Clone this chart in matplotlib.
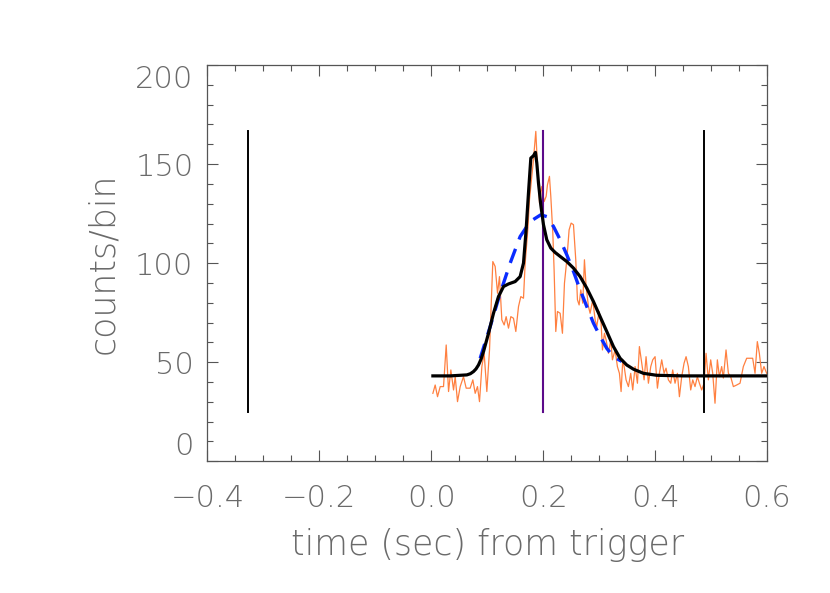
import numpy as np
import matplotlib
matplotlib.use("Agg")
import matplotlib.pyplot as plt
from matplotlib.ticker import MultipleLocator

# Observed light curve (orange)
t_obs = [0.0030, 0.0071, 0.0113, 0.0161, 0.0220, 0.0268, 0.0310, 0.0351, 0.0399, 0.0429,
         0.0470, 0.0518, 0.0577, 0.0625, 0.0696, 0.0744, 0.0786, 0.0827, 0.0863, 0.0905,
         0.0946, 0.0994, 0.1042, 0.1101, 0.1143, 0.1185, 0.1220, 0.1262, 0.1304, 0.1339,
         0.1381, 0.1423, 0.1470, 0.1512, 0.1560, 0.1601, 0.1649, 0.1679, 0.1726, 0.1756,
         0.1798, 0.1827, 0.1869, 0.1899, 0.1935, 0.1976, 0.2018, 0.2054, 0.2077, 0.2113,
         0.2137, 0.2173, 0.2196, 0.2226, 0.2256, 0.2304, 0.2345, 0.2381, 0.2423, 0.2464,
         0.2500, 0.2542, 0.2583, 0.2613, 0.2643, 0.2673, 0.2708, 0.2738, 0.2768, 0.2810,
         0.2839, 0.2887, 0.2929, 0.2958, 0.3000, 0.3036, 0.3060, 0.3095, 0.3125, 0.3167,
         0.3208, 0.3238, 0.3286, 0.3327, 0.3363, 0.3393, 0.3423, 0.3452, 0.3482, 0.3524,
         0.3565, 0.3601, 0.3643, 0.3685, 0.3720, 0.3762, 0.3804, 0.3839, 0.3881, 0.3923,
         0.3958, 0.4000, 0.4042, 0.4077, 0.4119, 0.4161, 0.4196, 0.4238, 0.4280, 0.4315,
         0.4357, 0.4399, 0.4435, 0.4476, 0.4518, 0.4554, 0.4595, 0.4637, 0.4673, 0.4714,
         0.4756, 0.4792, 0.4833, 0.4875, 0.4911, 0.4952, 0.4994, 0.5030, 0.5071, 0.5113,
         0.5149, 0.5190, 0.5220, 0.5268, 0.5310, 0.5351, 0.5399, 0.5458, 0.5518, 0.5577,
         0.5637, 0.5696, 0.5744, 0.5786, 0.5827, 0.5863, 0.5905, 0.5946, 0.5994]
counts_obs = [34.3, 38.5, 32.6, 37.7, 37.7, 58.7, 35.2, 46.1, 36.0, 42.7,
              30.1, 37.7, 42.7, 36.9, 36.9, 41.1, 34.3, 37.7, 30.1, 47.8,
              54.5, 35.2, 56.2, 100.8, 98.3, 84.8, 93.2, 71.4, 68.8, 73.0,
              67.2, 73.0, 72.2, 65.5, 78.1, 83.1, 82.3, 100.0, 116.8, 132.0,
              143.8, 152.2, 166.5, 148.8, 130.3, 138.7, 131.1, 133.7, 139.5, 143.8,
              133.7, 115.2, 96.6, 65.5, 75.6, 74.7, 64.6, 89.9, 101.7, 116.8,
              120.2, 119.4, 101.7, 81.5, 78.9, 86.5, 79.8, 101.7, 88.2, 78.1,
              74.7, 81.5, 71.4, 68.0, 75.6, 69.7, 56.2, 64.6, 61.3, 54.5,
              61.3, 51.2, 56.2, 47.8, 44.4, 35.2, 51.2, 47.0, 41.1, 37.7,
              44.4, 36.0, 47.8, 39.4, 57.9, 49.5, 41.1, 52.8, 39.4, 47.8,
              51.2, 52.8, 36.9, 44.4, 51.2, 44.4, 47.0, 41.1, 39.4, 46.1,
              39.4, 44.4, 32.6, 42.7, 49.5, 52.8, 47.8, 36.0, 41.1, 37.7,
              42.7, 39.4, 36.0, 39.4, 54.5, 41.1, 51.2, 44.4, 29.3, 51.2,
              42.7, 47.8, 42.0, 56.2, 44.4, 42.7, 37.7, 38.5, 39.4, 47.8,
              52.0, 52.0, 52.0, 44.4, 60.4, 54.5, 44.4, 47.8, 44.4]

# Pulse-model fit (black solid)
t_fit = [0.0030, 0.0339, 0.0637, 0.0700, 0.0756, 0.0800, 0.0845, 0.0890, 0.0935, 0.1024,
         0.1113, 0.1202, 0.1292, 0.1381, 0.1500, 0.1589, 0.1649, 0.1696, 0.1738, 0.1780,
         0.1827, 0.1863, 0.1887, 0.1917, 0.1958, 0.2006, 0.2065, 0.2137, 0.2214, 0.2304,
         0.2423, 0.2542, 0.2661, 0.2780, 0.2899, 0.3018, 0.3137, 0.3256, 0.3375, 0.3494,
         0.3613, 0.3792, 0.4030, 0.4506, 0.5994]
counts_fit = [43.1, 43.1, 43.6, 44.2, 45.3, 46.6, 48.6, 51.5, 55.4, 64.6,
              74.7, 83.1, 88.2, 89.5, 90.7, 93.2, 100.0, 116.8, 135.4, 153.0,
              154.2, 155.9, 150.5, 140.4, 129.4, 119.4, 111.8, 107.6, 105.4, 103.4,
              100.8, 97.5, 93.2, 87.4, 80.6, 73.0, 65.5, 57.9, 52.0, 48.6,
              46.5, 44.4, 43.4, 43.1, 43.1]

# Single-pulse fit (blue dashed)
t_single = [0.0875, 0.1054, 0.1232, 0.1411, 0.1589, 0.1768, 0.1958, 0.2065, 0.2185, 0.2304,
            0.2423, 0.2542, 0.2661, 0.2780, 0.2899, 0.3018, 0.3137, 0.3256, 0.3405]
counts_single = [52.0, 68.0, 84.8, 100.0, 113.4, 121.0, 124.4, 123.5, 118.5, 111.8,
                 104.2, 95.8, 86.5, 78.1, 69.7, 63.0, 57.0, 52.8, 50.4]

# Marker lines
t_black_lines = [-0.328, 0.488]
t_purple_line = 0.1993
line_ymin, line_ymax = 25.0, 166.5

xticks = [-0.4, -0.2, 0.0, 0.2, 0.4, 0.6]
xtick_labels = ["\u22120.4", "\u22120.2", "0.0", "0.2", "0.4", "0.6"]
yticks = [0, 50, 100, 150, 200]
ytick_labels = ["0", "50", "100", "150", "200"]

text_color = "#6a6a6a"
plt.rcParams['font.family'] = ['DejaVu Sans']

fig = plt.figure(figsize=(8.3, 5.93), dpi=100)
ax = fig.add_axes([0.2498, 0.2221, 0.9241 - 0.2498, 0.8904 - 0.2221])

ax.plot(t_obs, counts_obs, color="#ff8040", lw=0.9, zorder=2)
for tl in t_black_lines:
    ax.plot([tl, tl], [line_ymin, line_ymax], color="black", lw=1.4, zorder=3)
ax.plot([t_purple_line, t_purple_line], [line_ymin, line_ymax], color="#5c0a8a", lw=1.5, zorder=3)
ax.plot(t_single, counts_single, color="#0a2cff", lw=2.4, ls=(0, (4.5, 3)), zorder=4)
ax.plot(t_fit, counts_fit, color="black", lw=2.3, zorder=5)

ax.set_xlim(-0.4, 0.6)
ax.set_ylim(0, 200)
ax.set_xticks(xticks)
ax.set_xticklabels(xtick_labels)
ax.set_yticks(yticks)
ax.set_yticklabels(ytick_labels)
ax.xaxis.set_minor_locator(MultipleLocator(0.05))
ax.yaxis.set_minor_locator(MultipleLocator(10))
ax.tick_params(which='both', direction='in', top=True, right=True, colors='#555555',
               labelcolor=text_color, labelsize=22, width=0.8)
ax.tick_params(which='major', length=8)
ax.tick_params(which='minor', length=4)
ax.tick_params(axis='y', pad=10)
ax.tick_params(axis='x', pad=16)
for lab in ax.get_xticklabels() + ax.get_yticklabels():
    lab.set_fontweight('ultralight')
for sp in ax.spines.values():
    sp.set_color('#555555')
    sp.set_linewidth(0.9)

yt = ax.yaxis.get_major_ticks()
yt[0].label1.set_verticalalignment('bottom')
yt[-1].label1.set_verticalalignment('top')

ax.set_xlabel("time (sec) from trigger", fontsize=25, color=text_color, labelpad=11,
              fontweight='ultralight')
ax.set_ylabel("counts/bin", fontsize=25, color=text_color, labelpad=11,
              fontweight='ultralight')

fig.savefig("out.png", dpi=100)
